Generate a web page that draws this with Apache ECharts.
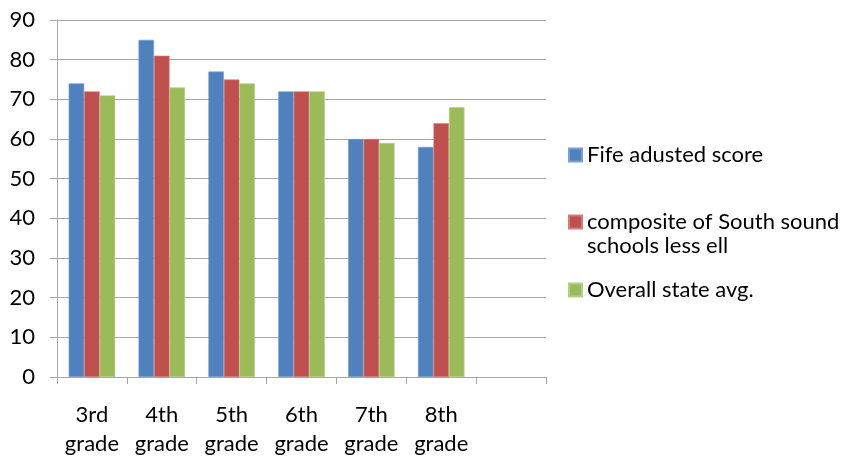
<!DOCTYPE html>
<html>
<head>
<meta charset="utf-8">
<script src="https://cdn.jsdelivr.net/npm/echarts@6/dist/echarts.min.js"></script>
<style>
  html, body { margin: 0; padding: 0; background: #fff; }
  #chart { width: 841px; height: 458px; }
</style>
</head>
<body>
<div id="chart"></div>
<script>
// Grade categories (the last slot is left empty on purpose)
const categories = ['3rd\ngrade', '4th\ngrade', '5th\ngrade', '6th\ngrade', '7th\ngrade', '8th\ngrade', ''];

// Scores per grade
const fifeScores = [74, 85, 77, 72, 60, 58];
const southSoundScores = [72, 81, 75, 72, 60, 64];
const stateAvgScores = [71, 73, 74, 72, 59, 68];

const seriesNames = ['Fife adusted score', 'composite of South sound\nschools less ell', 'Overall state avg.'];
const colors = ['#4F81BD', '#C0504D', '#9BBB59'];
const borderColors = ['#7A9FCF', '#D27C7A', '#B5CE86'];

const FONT = 'Lato, "Open Sans", sans-serif';
const FS = 22;

function legendAt(name, top, formatter) {
  return {
    data: [name],
    orient: 'vertical',
    left: 568,
    top: top,
    padding: 0,
    icon: 'rect',
    itemWidth: 13,
    itemHeight: 13,
    itemGap: 0,
    selectedMode: false,
    formatter: formatter || '{name}',
    textStyle: { fontFamily: FONT, fontSize: FS, color: '#000', lineHeight: 24 }
  };
}

const chart = echarts.init(document.getElementById('chart'), null, { renderer: 'canvas' });
chart.setOption({
  animation: false,
  backgroundColor: '#fff',
  color: colors,
  grid: { left: 57, right: 295, top: 20, bottom: 81, containLabel: false },
  legend: [
    legendAt(seriesNames[0], 143),
    // leading blank line keeps the marker level with the first text line
    legendAt(seriesNames[1], 186, name => '\n' + name),
    legendAt(seriesNames[2], 278)
  ],
  xAxis: {
    type: 'category',
    data: categories,
    axisLine: { lineStyle: { color: '#a6a6a6', width: 1 } },
    axisTick: { show: true, alignWithLabel: false, length: 7, lineStyle: { color: '#a6a6a6' } },
    axisLabel: { fontFamily: FONT, fontSize: FS, color: '#000', lineHeight: 29, margin: 23, interval: 0 }
  },
  yAxis: {
    type: 'value',
    min: 0,
    max: 90,
    interval: 10,
    axisLine: { show: true, lineStyle: { color: '#a6a6a6', width: 1 } },
    axisTick: { show: true, inside: false, length: 7, lineStyle: { color: '#a6a6a6' } },
    axisLabel: { fontFamily: FONT, fontSize: FS, color: '#000', margin: 22 },
    splitLine: { show: true, lineStyle: { color: '#a6a6a6', width: 1 } }
  },
  series: [fifeScores, southSoundScores, stateAvgScores].map((values, i) => ({
    name: seriesNames[i],
    type: 'bar',
    data: values,
    barWidth: 15.5,
    barGap: '0%',
    itemStyle: { color: colors[i], borderColor: borderColors[i], borderWidth: 0.6 }
  }))
});
</script>
</body>
</html>
